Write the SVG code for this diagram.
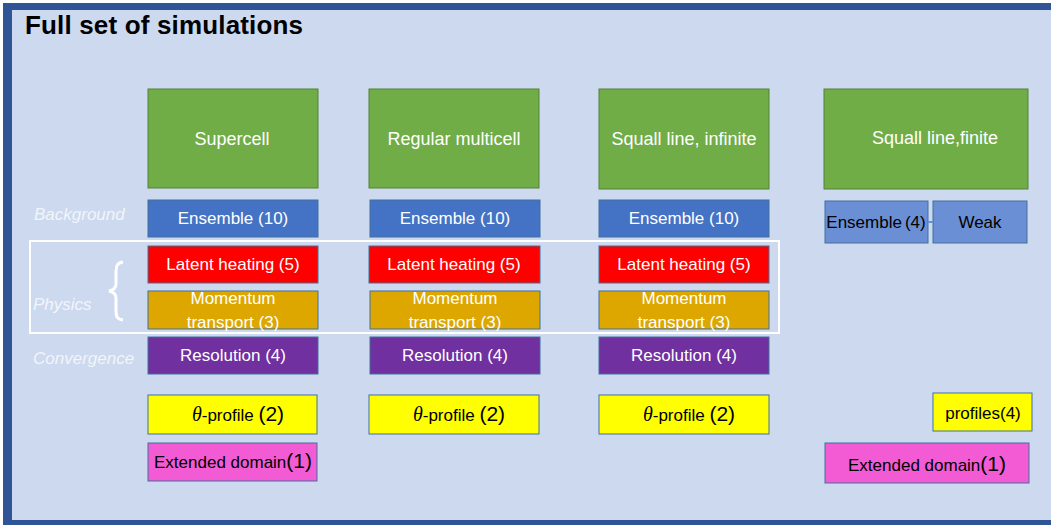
<svg xmlns="http://www.w3.org/2000/svg" width="1051" height="525" viewBox="0 0 1051 525">
<style>
.bx{stroke:#41719C;stroke-width:1}
.gr{fill:#70AD47;stroke:#548235;stroke-width:1}
.t{font-family:"Liberation Sans",Arial,sans-serif;font-size:17px;text-anchor:middle}
.g{font-size:18px}
.w{fill:#FFFFFF}
.k{fill:#000000}
.lab{font-family:"Liberation Sans",Arial,sans-serif;font-size:17px;font-style:italic;fill:#FFFFFF;fill-opacity:0.75}
</style>
<rect x="0" y="0" width="1051" height="525" fill="#FFFFFF"/>
<rect x="3" y="3" width="1048" height="522" fill="#2F5597"/>
<rect x="12" y="10" width="1039" height="510" fill="#CDD9EE"/>
<text x="25" y="34" font-family="'Liberation Sans',Arial,sans-serif" font-size="26" font-weight="bold" fill="#000" textLength="278">Full set of simulations</text>

<g id="labels">
<text class="lab" x="34" y="220">Background</text>
<text class="lab" x="33" y="310">Physics</text>
<text class="lab" x="33" y="364">Convergence</text>
<path d="M123,262 C117,263 116,266 116,272 L116,284 C116,288 114,290 109,291 C114,292 116,294 116,298 L116,311 C116,317 117,319 123,320" fill="none" stroke="#FFFFFF" stroke-width="3"/>
</g>

<g id="physics-frame">
<rect x="30" y="241" width="749" height="92" fill="none" stroke="#FFFFFF" stroke-width="2"/>
</g>

<g id="supercell"><rect class="gr" x="148" y="89" width="170" height="99"/><text class="t g w" x="232" y="145">Supercell</text></g>
<g id="multicell"><rect class="gr" x="369" y="89" width="170" height="99"/><text class="t g w" x="454" y="145">Regular multicell</text></g>
<g id="squall-infinite"><rect class="gr" x="599" y="89" width="170" height="100"/><text class="t g w" x="684" y="145">Squall line, infinite</text></g>
<g id="squall-finite"><rect class="gr" x="824" y="89" width="204" height="100"/><text class="t g w" x="935" y="144">Squall line,finite</text></g>

<g id="ensemble-1"><rect class="bx" x="148" y="200" width="170" height="37" fill="#4472C4"/><text class="t w" x="233" y="224">Ensemble (10)</text></g>
<g id="ensemble-2"><rect class="bx" x="370" y="200" width="170" height="37" fill="#4472C4"/><text class="t w" x="455" y="224">Ensemble (10)</text></g>
<g id="ensemble-3"><rect class="bx" x="599" y="200" width="170" height="37" fill="#4472C4"/><text class="t w" x="684" y="224">Ensemble (10)</text></g>

<g id="latent-1"><rect class="bx" x="148" y="246" width="170" height="37" fill="#FF0000"/><text class="t w" x="233" y="270" font-size="17.5">Latent heating (5)</text></g>
<g id="latent-2"><rect class="bx" x="369" y="246" width="171" height="37" fill="#FF0000"/><text class="t w" x="454" y="270" font-size="17.5">Latent heating (5)</text></g>
<g id="latent-3"><rect class="bx" x="599" y="246" width="170" height="37" fill="#FF0000"/><text class="t w" x="684" y="270" font-size="17.5">Latent heating (5)</text></g>

<g id="momentum-1"><rect class="bx" x="148" y="291" width="170" height="38" fill="#DDA700"/><text class="t w" x="233" y="304">Momentum</text><text class="t w" x="233" y="328">transport (3)</text></g>
<g id="momentum-2"><rect class="bx" x="370" y="291" width="170" height="38" fill="#DDA700"/><text class="t w" x="455" y="304">Momentum</text><text class="t w" x="455" y="328">transport (3)</text></g>
<g id="momentum-3"><rect class="bx" x="599" y="291" width="170" height="38" fill="#DDA700"/><text class="t w" x="684" y="304">Momentum</text><text class="t w" x="684" y="328">transport (3)</text></g>

<g id="resolution-1"><rect class="bx" x="148" y="337" width="170" height="37" fill="#7030A0"/><text class="t w" x="233" y="361">Resolution (4)</text></g>
<g id="resolution-2"><rect class="bx" x="370" y="337" width="170" height="37" fill="#7030A0"/><text class="t w" x="455" y="361">Resolution (4)</text></g>
<g id="resolution-3"><rect class="bx" x="599" y="337" width="170" height="37" fill="#7030A0"/><text class="t w" x="684" y="361">Resolution (4)</text></g>

<g id="theta-1"><rect class="bx" x="148" y="395" width="169" height="39" fill="#FFFF00"/><text class="t k" x="238" y="421" font-size="18"><tspan font-family="'Liberation Serif',serif" font-style="italic" font-size="20">θ</tspan>-profile <tspan font-size="21">(2)</tspan></text></g>
<g id="theta-2"><rect class="bx" x="369" y="395" width="170" height="39" fill="#FFFF00"/><text class="t k" x="459" y="421" font-size="18"><tspan font-family="'Liberation Serif',serif" font-style="italic" font-size="20">θ</tspan>-profile <tspan font-size="21">(2)</tspan></text></g>
<g id="theta-3"><rect class="bx" x="599" y="395" width="170" height="39" fill="#FFFF00"/><text class="t k" x="689" y="421" font-size="18"><tspan font-family="'Liberation Serif',serif" font-style="italic" font-size="20">θ</tspan>-profile <tspan font-size="21">(2)</tspan></text></g>

<g id="extended-1"><rect class="bx" x="148" y="443" width="169" height="38" fill="#F25BD4"/><text class="t k" x="233" y="468" font-size="17.5">Extended domain<tspan font-size="21">(1)</tspan></text></g>

<g id="ensemble-4"><rect class="bx" x="825" y="201" width="103" height="42" fill="#6A8FD4"/><text class="t k" x="876" y="228">Ensemble<tspan dx="3">(4)</tspan></text></g>
<g id="weak"><rect class="bx" x="933" y="201" width="94" height="42" fill="#6A8FD4"/><text class="t k" x="980" y="228" font-size="18">Weak</text></g>
<g id="profiles-4"><rect class="bx" x="933" y="393" width="99" height="38" fill="#FFFF00"/><text class="t k" x="983" y="419">profiles(4)</text></g>
<g id="extended-2"><rect class="bx" x="825" y="443" width="204" height="40" fill="#F25BD4"/><text class="t k" x="927" y="471" font-size="17.5">Extended domain<tspan font-size="21">(1)</tspan></text></g>

<g id="connectors">
<line x1="928" y1="222" x2="933" y2="222" stroke="#6A8FD4" stroke-width="2"/>
</g>
</svg>
